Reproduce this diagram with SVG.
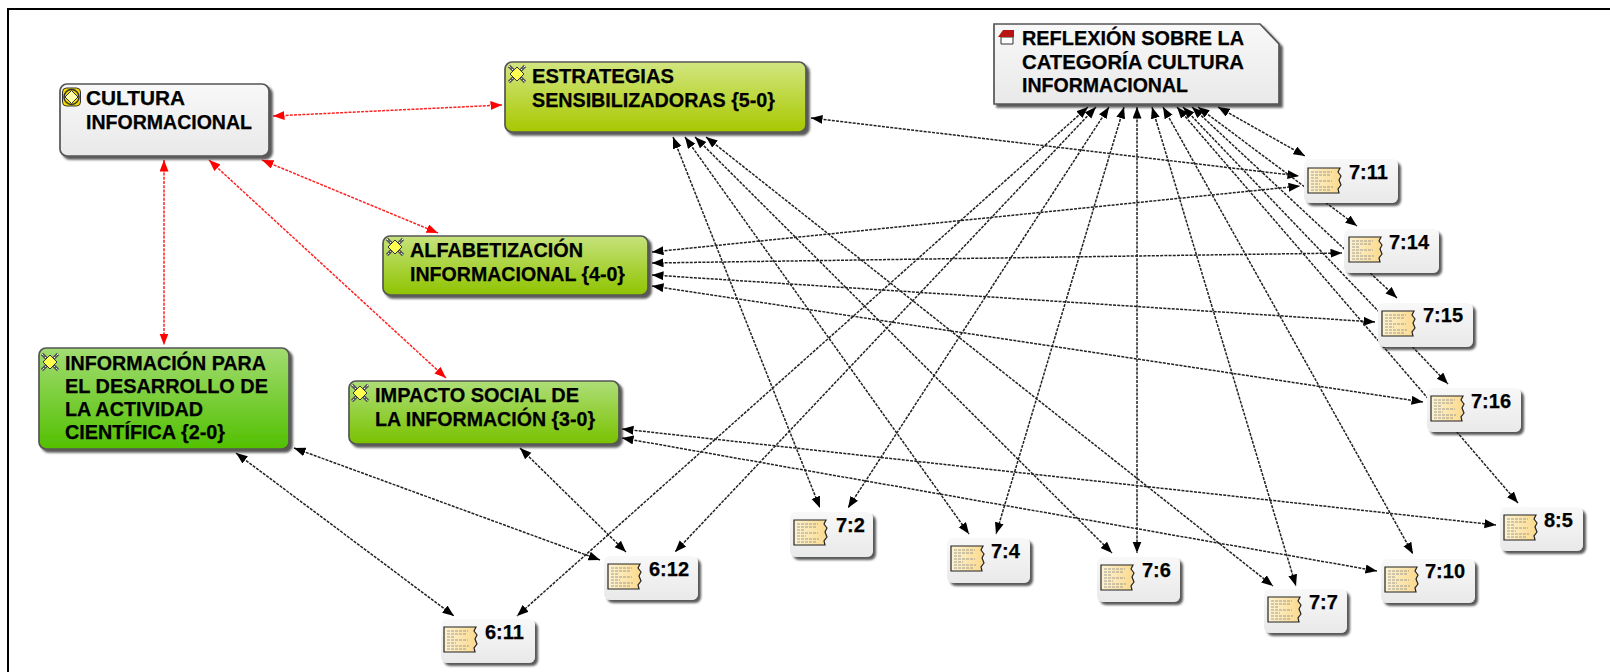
<svg xmlns="http://www.w3.org/2000/svg" xmlns:xlink="http://www.w3.org/1999/xlink" width="1610" height="672" viewBox="0 0 1610 672">
<style>
text{font-family:"Liberation Sans",Arial,sans-serif;font-weight:700;font-size:20px;fill:#000;stroke:#000;stroke-width:.25}
.k{fill:none;stroke:#222;stroke-width:1.5;stroke-dasharray:3 1.2;marker-start:url(#ak);marker-end:url(#ak)}
.r{fill:none;stroke:#f22;stroke-width:1.5;stroke-dasharray:3 1.2;marker-start:url(#ar);marker-end:url(#ar)}
.b{stroke:#555;stroke-width:1.7;filter:url(#sh)}
.leaf{fill:url(#gl);filter:url(#sh)}
</style>
<defs>
<marker id="ak" markerUnits="userSpaceOnUse" markerWidth="12" markerHeight="10" refX="11.500" refY="4.500" orient="auto-start-reverse"><path d="M0,0L11.500,4.500L0,9z" fill="#000"/></marker>
<marker id="ar" markerUnits="userSpaceOnUse" markerWidth="12" markerHeight="10" refX="11.500" refY="4.500" orient="auto-start-reverse"><path d="M0,0L11.500,4.500L0,9z" fill="#f00"/></marker>
<filter id="sh" x="-10%" y="-10%" width="125%" height="130%"><feDropShadow dx="3" dy="3" stdDeviation="1.2" flood-color="#222" flood-opacity=".75"/></filter>
<linearGradient id="gl" x1="0" y1="0" x2="0" y2="1"><stop offset="0" stop-color="#f8f8f8"/><stop offset="1" stop-color="#e9e9e9"/></linearGradient>
<linearGradient id="g1" x1="0" y1="0" x2="0" y2="1"><stop offset="0" stop-color="#d2e680"/><stop offset="1" stop-color="#a8c800"/></linearGradient>
<linearGradient id="g2" x1="0" y1="0" x2="0" y2="1"><stop offset="0" stop-color="#c6e27c"/><stop offset="1" stop-color="#8fc400"/></linearGradient>
<linearGradient id="g3" x1="0" y1="0" x2="0" y2="1"><stop offset="0" stop-color="#aede78"/><stop offset="1" stop-color="#79c200"/></linearGradient>
<linearGradient id="g4" x1="0" y1="0" x2="0" y2="1"><stop offset="0" stop-color="#a2dc72"/><stop offset="1" stop-color="#52c000"/></linearGradient>
<linearGradient id="gd" x1="0" y1="0" x2="1" y2="0"><stop offset="0" stop-color="#fdf3d2"/><stop offset="1" stop-color="#fbd98c"/></linearGradient>
<g id="doc">
<path d="M0,0H32L30,4L33,8L31,12L33,17L30,21L31,25H0z" fill="url(#gd)" stroke="#222" stroke-width="1.200"/>
<path d="M3,4H24M3,7H22M3,10H11M3,13H24M3,16H12M3,19H25M3,22H22" stroke="#888" stroke-width=".8" stroke-dasharray="3 1" fill="none"/>
</g>
<g id="code">
<path d="M-8,-8L8,8M8,-8L-8,8" stroke="#555" stroke-width="3.200"/>
<path d="M-8,-8L8,8M8,-8L-8,8" stroke="#fff" stroke-width="1" stroke-dasharray="2 2"/>
<path d="M0,-7L7,0L0,7L-7,0z" fill="#ffff50" stroke="#333" stroke-width="1"/>
</g>
</defs>
<path d="M8,672V9H1610" fill="none" stroke="#000" stroke-width="2"/>
<g id="connectors">
<line class="r" x1="273" y1="116" x2="502" y2="105"/>
<line class="r" x1="262" y1="160" x2="438" y2="233"/>
<line class="r" x1="209" y1="160" x2="446" y2="378"/>
<line class="r" x1="164" y1="160" x2="164" y2="345"/>
<line class="k" x1="673" y1="137" x2="820" y2="508"/>
<line class="k" x1="685" y1="137" x2="969" y2="534"/>
<line class="k" x1="695" y1="137" x2="1112" y2="553"/>
<line class="k" x1="706" y1="137" x2="1273" y2="586"/>
<line class="k" x1="811" y1="118" x2="1299" y2="176"/>
<line class="k" x1="652" y1="252" x2="1300" y2="186"/>
<line class="k" x1="652" y1="263" x2="1342" y2="253"/>
<line class="k" x1="652" y1="275" x2="1375" y2="322"/>
<line class="k" x1="652" y1="286" x2="1423" y2="402"/>
<line class="k" x1="622" y1="429" x2="1496" y2="525"/>
<line class="k" x1="622" y1="438" x2="1377" y2="571"/>
<line class="k" x1="294" y1="448" x2="600" y2="560"/>
<line class="k" x1="236" y1="453" x2="454" y2="616"/>
<line class="k" x1="520" y1="448" x2="626" y2="552"/>
<line class="k" x1="1088" y1="107" x2="517" y2="616"/>
<line class="k" x1="1096" y1="107" x2="675" y2="552"/>
<line class="k" x1="1109" y1="107" x2="848" y2="508"/>
<line class="k" x1="1124" y1="107" x2="996" y2="534"/>
<line class="k" x1="1137" y1="107" x2="1137" y2="553"/>
<line class="k" x1="1152" y1="107" x2="1296" y2="586"/>
<line class="k" x1="1163" y1="107" x2="1413" y2="554"/>
<line class="k" x1="1177" y1="107" x2="1518" y2="503"/>
<line class="k" x1="1183" y1="107" x2="1448" y2="384"/>
<line class="k" x1="1192" y1="107" x2="1397" y2="298"/>
<line class="k" x1="1198" y1="107" x2="1357" y2="226"/>
<line class="k" x1="1218" y1="107" x2="1305" y2="156"/>
</g>
<g id="n-cultura">
<rect class="b" x="60" y="84" width="209" height="72" rx="7" fill="url(#gl)"/>
<rect x="62.500" y="88" width="18" height="18" rx="4" fill="#f5dc00" stroke="#333"/>
<circle cx="71.500" cy="97" r="7.500" fill="none" stroke="#333" stroke-width="1.500"/>
<path d="M71.500,90.500L78,97L71.500,103.500L65,97z" fill="#ffffa8" stroke="#333"/>
<text x="86" y="105" textLength="99" lengthAdjust="spacingAndGlyphs">CULTURA</text><text x="86" y="128.500" textLength="166" lengthAdjust="spacingAndGlyphs">INFORMACIONAL</text>
</g>
<g id="n-estrategias">
<rect class="b" x="505" y="62" width="301" height="70" rx="7" fill="url(#g1)"/>
<use href="#code" x="517" y="74"/>
<text x="532" y="83" textLength="142" lengthAdjust="spacingAndGlyphs">ESTRATEGIAS</text><text x="532" y="107" textLength="243" lengthAdjust="spacingAndGlyphs">SENSIBILIZADORAS {5-0}</text>
</g>
<g id="n-alfabetizacion">
<rect class="b" x="383" y="236" width="265" height="59" rx="7" fill="url(#g2)"/>
<use href="#code" x="395" y="247"/>
<text x="410" y="257" textLength="173" lengthAdjust="spacingAndGlyphs">ALFABETIZACIÓN</text><text x="410" y="281" textLength="215" lengthAdjust="spacingAndGlyphs">INFORMACIONAL {4-0}</text>
</g>
<g id="n-informacion">
<rect class="b" x="39" y="348" width="250" height="101" rx="7" fill="url(#g4)"/>
<use href="#code" x="50" y="362"/>
<text x="65" y="370" textLength="201" lengthAdjust="spacingAndGlyphs">INFORMACIÓN PARA</text><text x="65" y="393" textLength="203" lengthAdjust="spacingAndGlyphs">EL DESARROLLO DE</text><text x="65" y="416" textLength="138" lengthAdjust="spacingAndGlyphs">LA ACTIVIDAD</text><text x="65" y="439" textLength="160" lengthAdjust="spacingAndGlyphs">CIENTÍFICA {2-0}</text>
</g>
<g id="n-impacto">
<rect class="b" x="349" y="381" width="270" height="63" rx="7" fill="url(#g3)"/>
<use href="#code" x="360" y="393"/>
<text x="375" y="402" textLength="204" lengthAdjust="spacingAndGlyphs">IMPACTO SOCIAL DE</text><text x="375" y="426" textLength="220" lengthAdjust="spacingAndGlyphs">LA INFORMACIÓN {3-0}</text>
</g>
<g id="n-reflexion">
<path class="b" d="M994,24H1260L1279,44V104H994z" fill="url(#gl)"/>
<path d="M1001,37H1013V44H1001z" fill="#fff" stroke="#333"/>
<path d="M998,37L1003,30H1014V37z" fill="#b81414"/>
<text x="1022" y="45" textLength="222" lengthAdjust="spacingAndGlyphs">REFLEXIÓN SOBRE LA</text><text x="1022" y="69" textLength="222" lengthAdjust="spacingAndGlyphs">CATEGORÍA CULTURA</text><text x="1022" y="92" textLength="166" lengthAdjust="spacingAndGlyphs">INFORMACIONAL</text>
</g>
<g id="q-7-11"><rect class="leaf" x="1304" y="159" width="94" height="44" rx="6"/><use href="#doc" x="1308" y="168"/><text x="1349" y="179">7:11</text></g>
<g id="q-7-14"><rect class="leaf" x="1344" y="229" width="95" height="44" rx="6"/><use href="#doc" x="1349" y="237"/><text x="1389" y="249">7:14</text></g>
<g id="q-7-15"><rect class="leaf" x="1378" y="303" width="95" height="44" rx="6"/><use href="#doc" x="1382" y="311"/><text x="1423" y="322">7:15</text></g>
<g id="q-7-16"><rect class="leaf" x="1427" y="388" width="94" height="44" rx="6"/><use href="#doc" x="1431" y="396"/><text x="1471" y="408">7:16</text></g>
<g id="q-6-11"><rect class="leaf" x="441" y="619" width="94" height="44" rx="6"/><use href="#doc" x="444" y="627"/><text x="485" y="639">6:11</text></g>
<g id="q-6-12"><rect class="leaf" x="604" y="556" width="94" height="44" rx="6"/><use href="#doc" x="608" y="564"/><text x="649" y="576">6:12</text></g>
<g id="q-7-2"><rect class="leaf" x="790" y="512" width="83" height="45" rx="6"/><use href="#doc" x="794" y="520"/><text x="836" y="532">7:2</text></g>
<g id="q-7-4"><rect class="leaf" x="947" y="538" width="83" height="45" rx="6"/><use href="#doc" x="951" y="546"/><text x="991" y="558">7:4</text></g>
<g id="q-7-6"><rect class="leaf" x="1097" y="557" width="83" height="45" rx="6"/><use href="#doc" x="1101" y="565"/><text x="1142" y="577">7:6</text></g>
<g id="q-7-7"><rect class="leaf" x="1264" y="589" width="83" height="44" rx="6"/><use href="#doc" x="1268" y="597"/><text x="1309" y="609">7:7</text></g>
<g id="q-7-10"><rect class="leaf" x="1381" y="559" width="94" height="44" rx="6"/><use href="#doc" x="1385" y="567"/><text x="1425" y="578">7:10</text></g>
<g id="q-8-5"><rect class="leaf" x="1500" y="507" width="83" height="44" rx="6"/><use href="#doc" x="1504" y="515"/><text x="1544" y="527">8:5</text></g>
</svg>
